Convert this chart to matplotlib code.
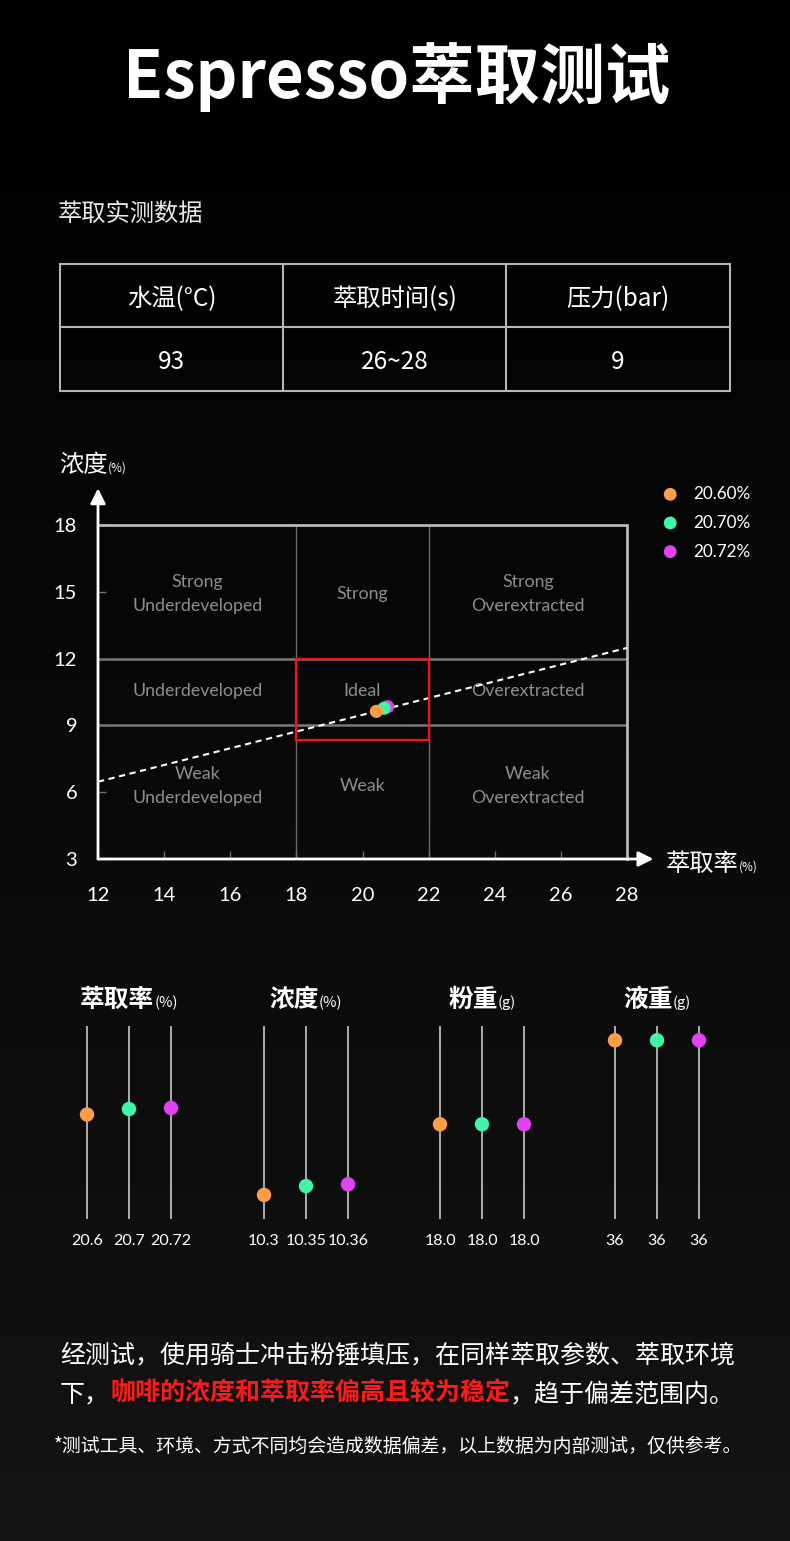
import matplotlib
matplotlib.use("Agg")
import matplotlib.pyplot as plt
import numpy as np

# ---------------- data ----------------
title_text = "Espresso萃取测试"
section_title = "萃取实测数据"
table_headers = ["水温(°C)", "萃取时间(s)", "压力(bar)"]
table_values = ["93", "26~28", "9"]

series_labels = ["20.60%", "20.70%", "20.72%"]
series_colors = ["#ff9c48", "#40f5a8", "#e242f4"]

# scatter positions
scatter_x = [20.42, 20.65, 20.76]
scatter_y = [9.63, 9.77, 9.84]

x_ticks = [12, 14, 16, 18, 20, 22, 24, 26, 28]
y_ticks = [3, 6, 9, 12, 15, 18]
zone_x_edges = [12, 18, 22, 28]
zone_y_edges = [3, 9, 12, 18]
trend_x = [12, 28]
trend_y = [6.47, 12.48]
ideal_x = [18, 22]
ideal_y = [8.34, 12]
zone_labels = [
    ["Strong\nUnderdeveloped", "Strong", "Strong\nOverextracted"],
    ["Underdeveloped", "Ideal", "Overextracted"],
    ["Weak\nUnderdeveloped", "Weak", "Weak\nOverextracted"],
]

bottom_titles = ["萃取率", "浓度", "粉重", "液重"]
bottom_units = ["(%)", "(%)", "(g)", "(g)"]
extraction_vals = [20.6, 20.7, 20.72]
strength_vals = [10.3, 10.35, 10.36]
dose_vals = [18.0, 18.0, 18.0]
yield_vals = [36, 36, 36]
extraction_lbls = ["20.6", "20.7", "20.72"]
strength_lbls = ["10.3", "10.35", "10.36"]
dose_lbls = ["18.0", "18.0", "18.0"]
yield_lbls = ["36", "36", "36"]

para1 = "经测试，使用骑士冲击粉锤填压，在同样萃取参数、萃取环境"
para2_a = "下，"
para2_b = "咖啡的浓度和萃取率偏高且较为稳定"
para2_c = "，趋于偏差范围内。"
footnote = "*测试工具、环境、方式不同均会造成数据偏差，以上数据为内部测试，仅供参考。"

# ---------------- figure ----------------
W, H, DPI = 790, 1541, 100
CJK = ["Noto Sans CJK SC", "DejaVu Sans"]
LAT = ["Lato", "Noto Sans CJK SC", "DejaVu Sans"]
plt.rcParams["font.family"] = LAT

fig = plt.figure(figsize=(W / DPI, H / DPI), dpi=DPI)
fig.patch.set_facecolor("black")


def fx(px):
    return px / W


def fy(py):
    return 1 - py / H


def box(l, t, r, b):
    return [fx(l), fy(b), (r - l) / W, (b - t) / H]


# background gradient
bg = fig.add_axes([0, 0, 1, 1], zorder=-10)
t = np.linspace(0.0, 1.0, 400).reshape(-1, 1)
grad = 0.078 * t ** 1.1
bg.imshow(np.dstack([grad, grad, grad]), aspect="auto", extent=[0, 1, 0, 1], origin="upper")
bg.set_axis_off()

renderer = fig.canvas.get_renderer()


def mixed(parts, x, base_y, ha="center"):
    texts = []
    for s, kw in parts:
        tt = fig.text(0, fy(base_y), s, va="baseline", ha="left", **kw)
        texts.append(tt)
    widths = [tt.get_window_extent(renderer).width for tt in texts]
    total = sum(widths)
    cur = x - total / 2 if ha == "center" else x
    for tt, w in zip(texts, widths):
        tt.set_x(fx(cur))
        cur += w
    return texts


# title
fig.text(fx(397), fy(98.5), title_text, ha="center", va="baseline", color="white",
         fontsize=47, fontweight="bold", family=CJK)
fig.text(fx(58), fy(221), section_title, ha="left", va="baseline", color="#e8e8e8",
         fontsize=17.5, family=CJK)

# table
tax = fig.add_axes(box(59.7, 264, 729.6, 390.7))
tax.set_xlim(0, 3)
tax.set_ylim(2, 0)
tax.set_axis_off()
for c in range(4):
    tax.plot([c, c], [0, 2], color="#b5b5b5", lw=1.5, clip_on=False, solid_capstyle="projecting")
for r in range(3):
    tax.plot([0, 3], [r, r], color="#b5b5b5", lw=1.5, clip_on=False, solid_capstyle="projecting")
for i, (hd, vl) in enumerate(zip(table_headers, table_values)):
    tax.annotate(hd, xy=(i + 0.5, 0.5), xytext=(0, -2.2), textcoords="offset points",
                 ha="center", va="center", color="white", fontsize=17.5, family=CJK)
    tax.annotate(vl, xy=(i + 0.5, 1.5), xytext=(0, -1.8), textcoords="offset points",
                 ha="center", va="center", color="white", fontsize=17.5, family=CJK)

# main chart
ax = fig.add_axes(box(98, 525, 627, 859))
ax.set_facecolor("none")
ax.set_xlim(12, 28)
ax.set_ylim(3, 18)
for s in ax.spines.values():
    s.set_visible(False)

# zone grid
ax.hlines(zone_y_edges[1:3], zone_x_edges[0], zone_x_edges[-1], color="#7a7a7a", lw=1.8, zorder=1)
ax.vlines(zone_x_edges[1:3], zone_y_edges[0], zone_y_edges[-1], color="#6a6a6a", lw=1.0, zorder=1)
ax.plot([zone_x_edges[0], zone_x_edges[-1], zone_x_edges[-1]],
        [zone_y_edges[-1], zone_y_edges[-1], zone_y_edges[0]],
        color="#b8b8b8", lw=2, zorder=2, clip_on=False, solid_joinstyle="miter")

# ticks
ax.set_xticks(x_ticks)
ax.set_yticks(y_ticks)
ax.tick_params(axis="x", direction="in", length=6, width=1, color="#6f6f6f",
               labelcolor="white", labelsize=14.5, pad=20)
ax.tick_params(axis="y", direction="in", length=6, width=1, color="#6f6f6f",
               labelcolor="white", labelsize=14.5, pad=15)

# axes with arrows
ax.annotate("", xy=(28.8, 3), xytext=(12, 3), xycoords="data",
            arrowprops=dict(arrowstyle="-|>,head_length=0.9,head_width=0.45", color="white",
                            lw=2, shrinkA=0, shrinkB=0), annotation_clip=False, zorder=5)
ax.annotate("", xy=(12, 19.65), xytext=(12, 3), xycoords="data",
            arrowprops=dict(arrowstyle="-|>,head_length=0.9,head_width=0.45", color="white",
                            lw=2, shrinkA=0, shrinkB=0), annotation_clip=False, zorder=5)

# zone labels
col_c = [(zone_x_edges[i] + zone_x_edges[i + 1]) / 2 for i in range(3)]
row_c = [14.9, 10.54, 6.28]
for r in range(3):
    for c in range(3):
        lines = zone_labels[r][c].split("\n")
        n = len(lines)
        for k, ln in enumerate(lines):
            off = (((n - 1) / 2) - k) * 17.0
            ax.annotate(ln, xy=(col_c[c], row_c[r]), xytext=(0, off), textcoords="offset points",
                        ha="center", va="center", color="#8e8e8e", fontsize=12.8, zorder=3)

# trend line and ideal box
ax.plot(trend_x, trend_y, color="white", lw=1.5, ls=(0, (3, 2.2)), zorder=4)
ax.add_patch(plt.Rectangle((ideal_x[0], ideal_y[0]), ideal_x[1] - ideal_x[0],
                           ideal_y[1] - ideal_y[0], fill=False, ec="#ff1010", lw=1.6, zorder=4))

# scatter (orange on top)
for i in [2, 1, 0]:
    ax.scatter(scatter_x[i], scatter_y[i], s=90, color=series_colors[i], zorder=6 + (2 - i),
               edgecolors="none")

# axis titles
mixed([("浓度", dict(fontsize=17.5, color="white", family=CJK)),
       ("(%)", dict(fontsize=8.5, color="white", family=CJK))], 59, 472, ha="left")
mixed([("萃取率", dict(fontsize=17.5, color="white", family=CJK)),
       ("(%)", dict(fontsize=8.5, color="white", family=CJK))], 666, 871, ha="left")

# legend
lax = fig.add_axes(box(655, 480, 760, 566))
lax.set_axis_off()
lax.set_xlim(0, 1)
lax.set_ylim(3, 0)
for i, (lab, col) in enumerate(zip(series_labels, series_colors)):
    lax.scatter(0.145, i + 0.5, s=85, color=col, edgecolors="none")
    lax.text(0.36, i + 0.5, lab, ha="left", va="center", color="white", fontsize=12.3)

# bottom mini charts
groups = [
    (extraction_vals, extraction_lbls, 87, (18.70, 22.21)),
    (strength_vals, strength_lbls, 264, (10.165, 11.249)),
    (dose_vals, dose_lbls, 440, (0, 36.68)),
    (yield_vals, yield_lbls, 615, (0, 38.88)),
]
for gi, (vals, lbls, x0, ylim) in enumerate(groups):
    gax = fig.add_axes(box(x0 - 21, 1026, x0 + 2 * 42 + 21, 1219))
    gax.set_axis_off()
    gax.set_xlim(-0.5, 2.5)
    gax.set_ylim(*ylim)
    xs = np.arange(len(vals))
    gax.vlines(xs, ylim[0], ylim[1], color="#c8c8c8", lw=1.2, zorder=1)
    for k in range(len(vals)):
        gax.scatter(xs[k], vals[k], s=108, color=series_colors[k], zorder=3, edgecolors="none",
                    clip_on=False)
        gax.annotate(lbls[k], xy=(xs[k], ylim[0]), xytext=(0, -15.5), textcoords="offset points",
                     ha="center", va="center", color="white", fontsize=11.5, annotation_clip=False)
    mixed([(bottom_titles[gi], dict(fontsize=17.8, color="white", fontweight="bold", family=CJK)),
           (bottom_units[gi], dict(fontsize=10.5, color="white", family=CJK))],
          x0 + 42, 1007, ha="center")

# paragraph
fig.text(fx(60), fy(1362), para1, ha="left", va="baseline", color="white", fontsize=18, family=CJK)
mixed([(para2_a, dict(fontsize=18, color="white", family=CJK)),
       (para2_b, dict(fontsize=18, color="#ff1a1a", fontweight="bold", family=CJK)),
       (para2_c, dict(fontsize=18, color="white", family=CJK))], 60, 1401, ha="left")
fig.text(fx(54), fy(1452), footnote, ha="left", va="baseline", color="white", fontsize=13.6,
         family=CJK)

fig.savefig("out.png", dpi=DPI, facecolor=fig.get_facecolor())
